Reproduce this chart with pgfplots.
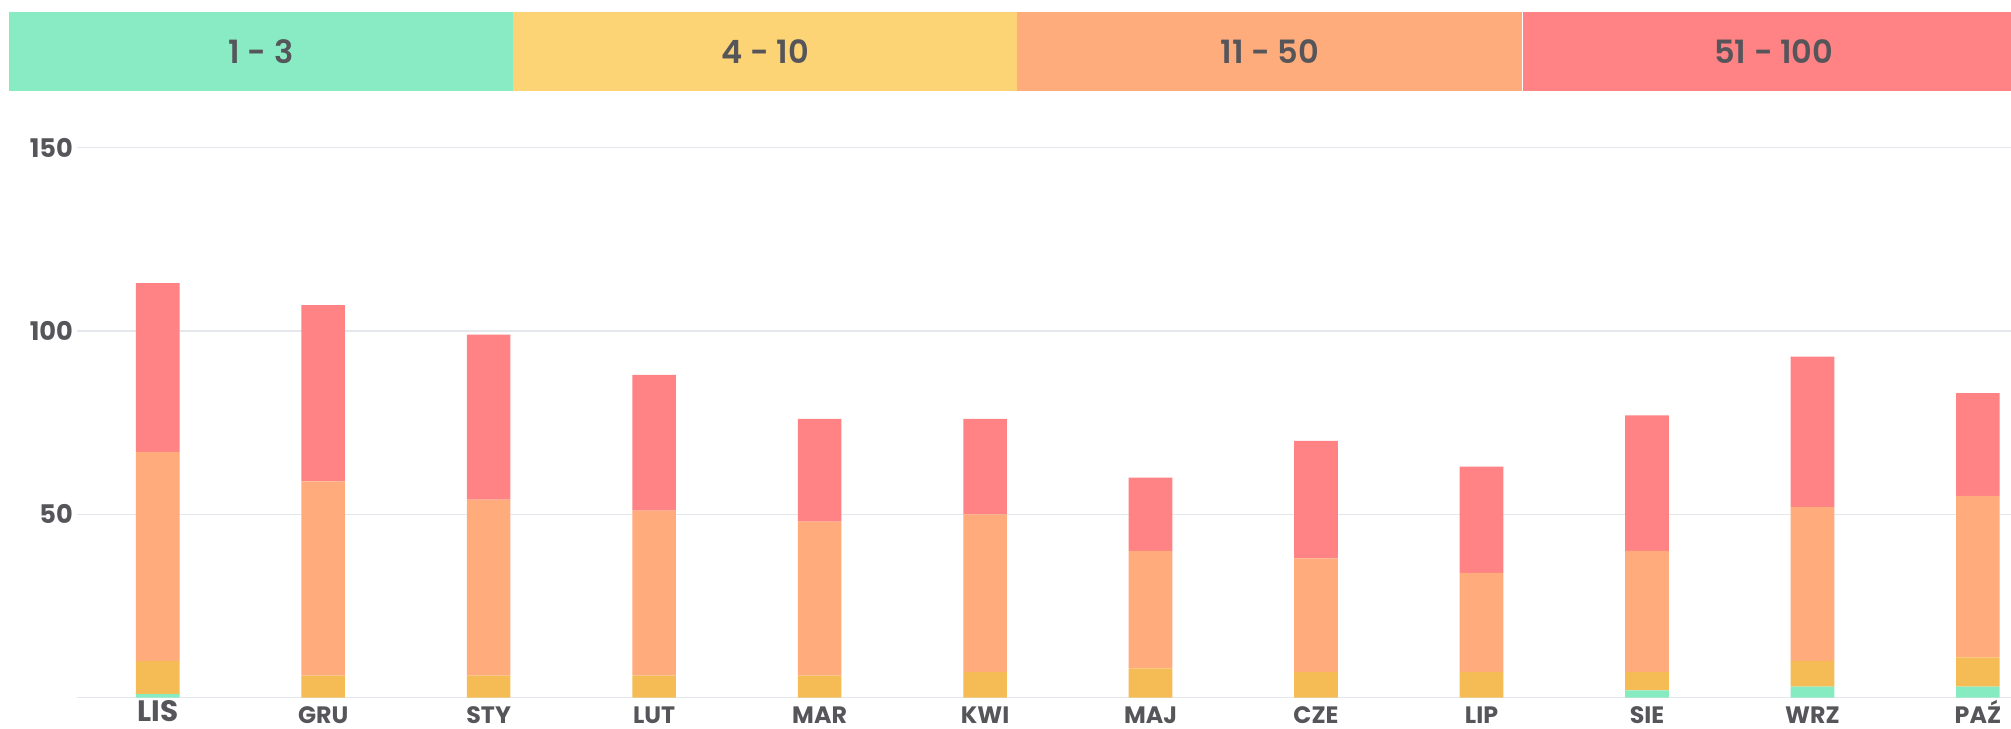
\documentclass[border=0pt]{standalone}
\usepackage{fontspec}
\setmainfont{Poppins}
\newfontfamily\semifont{Poppins SemiBold}
\usepackage{pgfplots}
\pgfplotsset{compat=1.18}
\definecolor{lgreen}{RGB}{137,235,196}
\definecolor{lyellow}{RGB}{252,211,117}
\definecolor{lorange}{RGB}{255,172,124}
\definecolor{lred}{RGB}{255,130,132}
\definecolor{bgreen}{RGB}{135,235,193}
\definecolor{byellow}{RGB}{245,188,85}
\definecolor{borange}{RGB}{255,171,124}
\definecolor{bred}{RGB}{255,130,133}
\definecolor{txt}{RGB}{85,85,90}
\definecolor{gridcol}{RGB}{228,231,236}
\begin{document}
\begin{tikzpicture}[x=1pt,y=1pt]
\path[use as bounding box] (0,0) rectangle (1568,568);
\fill[lgreen] (7,497) rectangle (400,559);
\fill[lyellow] (400,497) rectangle (793,559);
\fill[lorange] (793,497) rectangle (1187,559);
\fill[lred] (1187,497) rectangle (1568,559);
\draw[white, line width=0.8pt] (1187,497) -- (1187,559);
\node[text=txt, font=\fontsize{25}{25}\selectfont\semifont] at (203.5,528) {1 - 3};
\node[text=txt, font=\fontsize{25}{25}\selectfont\semifont] at (596.5,528) {4 - 10};
\node[text=txt, font=\fontsize{25}{25}\selectfont\semifont] at (990,528) {11 - 50};
\node[text=txt, font=\fontsize{25}{25}\selectfont\semifont] at (1383,528) {51 - 100};
\begin{axis}[
  at={(60pt,24pt)}, anchor=south west,
  scale only axis, width=1508pt, height=429pt,
  xmin=-0.488, xmax=11.2, ymin=0, ymax=150,
  ybar stacked, bar width=34pt,
  axis line style={draw=none},
  major tick length=0pt,
  ymajorgrids, grid style={gridcol, line width=1.2pt},
  ytick={0,50,100,150}, yticklabels={,50,100,150},
  xtick={0,...,11},
  xticklabels={{\fontsize{23}{23}\selectfont\raisebox{1.5pt}{LIS}},GRU,STY,LUT,MAR,KWI,MAJ,CZE,LIP,SIE,WRZ,PAŹ},
  /pgf/number format/assume math mode=true,
  yticklabel style={font=\fontsize{20}{20}\selectfont\bfseries, text=txt, inner sep=0pt, xshift=-3pt},
  xticklabel style={font=\fontsize{18.5}{18.5}\selectfont\bfseries, text=txt, inner sep=0pt, anchor=north, text height=13pt, text depth=0pt, yshift=-7pt},
  every axis plot/.append style={draw=none},
]
\addplot[fill=bgreen] coordinates {(0,1) (1,0) (2,0) (3,0) (4,0) (5,0) (6,0) (7,0) (8,0) (9,2) (10,3) (11,3)};
\addplot[fill=byellow] coordinates {(0,9) (1,6) (2,6) (3,6) (4,6) (5,7) (6,8) (7,7) (8,7) (9,5) (10,7) (11,8)};
\addplot[fill=borange] coordinates {(0,57) (1,53) (2,48) (3,45) (4,42) (5,43) (6,32) (7,31) (8,27) (9,33) (10,42) (11,44)};
\addplot[fill=bred] coordinates {(0,46) (1,48) (2,45) (3,37) (4,28) (5,26) (6,20) (7,32) (8,29) (9,37) (10,41) (11,28)};
\end{axis}
\end{tikzpicture}
\end{document}
